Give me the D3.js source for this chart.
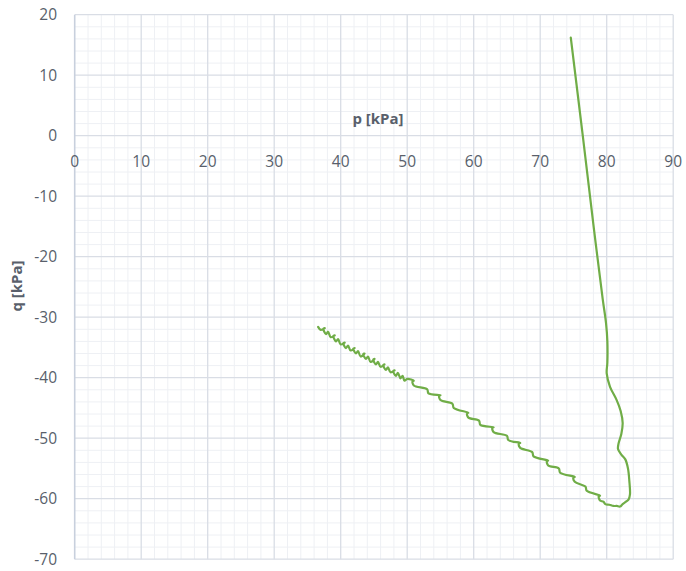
<!DOCTYPE html>
<html>
<head>
<meta charset="utf-8">
<script src="https://cdn.jsdelivr.net/npm/d3@7"></script>
<style>
  html, body { margin: 0; padding: 0; background: #ffffff; }
  svg { display: block; }
</style>
</head>
<body>
<svg id="chart" width="686" height="571"></svg>
<script>
// ---- data ----
const xTickValues = [0, 10, 20, 30, 40, 50, 60, 70, 80, 90];
const yTickValues = [20, 10, 0, -10, -20, -30, -40, -50, -60, -70];
const xTitle = "p [kPa]";
const yTitle = "q [kPa]";

const pVals = [
  74.6, 76.4, 78.1, 79.4, 79.9, 80.1, 80.1, 80.0, 80.5, 81.5, 82.1, 82.4, 82.2, 81.8, 81.7, 82.2, 82.8, 83.2, 83.4, 83.5, 83.3,
  82.9, 82.4, 82.0, 81.5, 81.0, 80.4, 79.8, 79.5,
  79.0, 78.8, 79.0, 77.0, 76.8, 75.2, 75.0, 75.2, 73.0, 72.8, 71.2, 71.0, 71.2,
  69.0, 68.8, 67.0, 66.8, 67.0, 65.2, 65.0, 63.0, 62.8, 63.0, 61.0, 60.8,
  59.2, 59.0, 59.2, 57.0, 56.8, 55.0, 54.8, 55.0, 53.2, 53.0, 51.0, 50.8, 51.0,
  50.0, 49.6, 49.3, 49.0, 48.6, 48.3, 47.9, 48.1, 47.5, 47.1, 46.8, 46.4, 46.6,
  46.0, 45.6, 45.3, 44.9, 45.1, 44.5, 44.1, 43.8, 43.4, 43.6, 43.0, 42.6, 42.3,
  41.9, 42.1, 41.5, 41.1, 40.8, 40.4, 40.6, 40.0, 39.6, 39.3, 38.9, 39.1, 38.5,
  38.1, 37.8, 37.4, 37.6, 37.0, 36.6
];
const qVals = [
  16.2, 0.0, -15.6, -27.0, -31.0, -34.0, -37.5, -39.3, -41.5, -43.7, -45.5, -47.5, -49.3, -50.8, -51.8, -52.7, -53.5, -55.0, -57.0, -59.3, -60.1,
  -60.5, -60.9, -61.3, -61.2, -61.2, -61.0, -60.9, -60.5,
  -60.3, -59.6, -59.5, -58.7, -58.0, -57.2, -56.5, -56.4, -55.7, -55.0, -54.5, -53.8, -53.7,
  -53.0, -52.3, -51.6, -50.9, -50.8, -50.3, -49.6, -49.0, -48.3, -48.2, -47.8, -47.1,
  -46.6, -45.9, -45.8, -45.0, -44.3, -43.7, -43.0, -42.9, -42.6, -41.9, -41.3, -40.6, -40.5,
  -40.2, -40.5, -39.7, -40.1, -39.2, -39.7, -38.9, -38.8, -39.1, -38.3, -38.7, -37.9, -37.8,
  -38.2, -37.4, -37.8, -37.0, -36.9, -37.4, -36.5, -36.9, -36.1, -36.0, -36.5, -35.6, -36.0,
  -35.2, -35.1, -35.5, -34.7, -35.1, -34.3, -34.2, -34.5, -33.6, -34.0, -33.1, -33.0, -33.3,
  -32.4, -32.8, -31.9, -31.8, -32.1, -31.6
];

// ---- layout ----
const svg = d3.select("#chart");
const plotLeft = 74.7, plotRight = 673.2, plotTop = 14.7, plotBottom = 559.2;

const x = d3.scaleLinear().domain([0, 90]).range([plotLeft, plotRight]);
const y = d3.scaleLinear().domain([-70, 20]).range([plotBottom, plotTop]);

const textColor = "#595f6b";
const font = "'Open Sans', 'Noto Sans', sans-serif";

// minor grid
const g = svg.append("g");
g.selectAll("line.minorx").data(x.ticks(45).filter(v => v % 10 !== 0)).join("line")
  .attr("x1", d => x(d)).attr("x2", d => x(d)).attr("y1", plotTop).attr("y2", plotBottom)
  .attr("stroke", "#eef0f4").attr("stroke-width", 1);
g.selectAll("line.minory").data(y.ticks(45).filter(v => v % 10 !== 0)).join("line")
  .attr("y1", d => y(d)).attr("y2", d => y(d)).attr("x1", plotLeft).attr("x2", plotRight)
  .attr("stroke", "#eef0f4").attr("stroke-width", 1);

// major grid
g.selectAll("line.majorx").data(xTickValues.filter(v => v !== 0)).join("line")
  .attr("x1", d => x(d)).attr("x2", d => x(d)).attr("y1", plotTop).attr("y2", plotBottom)
  .attr("stroke", "#d9dde5").attr("stroke-width", 1.3);
g.selectAll("line.majory").data(yTickValues).join("line")
  .attr("y1", d => y(d)).attr("y2", d => y(d)).attr("x1", plotLeft).attr("x2", plotRight)
  .attr("stroke", "#d9dde5").attr("stroke-width", 1.3);

// vertical axis line at p = 0
svg.append("line")
  .attr("x1", x(0)).attr("x2", x(0)).attr("y1", plotTop).attr("y2", plotBottom)
  .attr("stroke", "#c8d0dd").attr("stroke-width", 1.6);

// y tick labels
svg.append("g").selectAll("text").data(yTickValues).join("text")
  .attr("x", 57).attr("y", d => y(d))
  .attr("dy", "0.36em")
  .attr("text-anchor", "end")
  .attr("font-family", font).attr("font-size", 15.5)
  .attr("fill", textColor)
  .text(d => d);

// x tick labels (just below the q = 0 line)
svg.append("g").selectAll("text").data(xTickValues).join("text")
  .attr("x", d => x(d)).attr("y", y(0) + 25.5)
  .attr("dy", "0.36em")
  .attr("text-anchor", "middle")
  .attr("font-family", font).attr("font-size", 15.5)
  .attr("fill", textColor)
  .text(d => d);

// axis titles
svg.append("text")
  .attr("x", 378).attr("y", 119).attr("dy", "0.36em")
  .attr("text-anchor", "middle")
  .attr("font-family", font).attr("font-size", 15).attr("font-weight", "bold")
  .attr("fill", textColor)
  .text(xTitle);

svg.append("text")
  .attr("transform", "translate(17,286) rotate(-90)")
  .attr("dy", "0.36em")
  .attr("text-anchor", "middle")
  .attr("font-family", font).attr("font-size", 15).attr("font-weight", "bold")
  .attr("fill", textColor)
  .text(yTitle);

// data line
const pts = pVals.map((p, i) => [p, qVals[i]]);
const line = d3.line()
  .x(d => x(d[0])).y(d => y(d[1]))
  .curve(d3.curveCatmullRom.alpha(0.5));
svg.append("path")
  .datum(pts)
  .attr("d", line)
  .attr("fill", "none")
  .attr("stroke", "#70ad47")
  .attr("stroke-width", 2.2)
  .attr("stroke-linejoin", "round")
  .attr("stroke-linecap", "round");
</script>
</body>
</html>
